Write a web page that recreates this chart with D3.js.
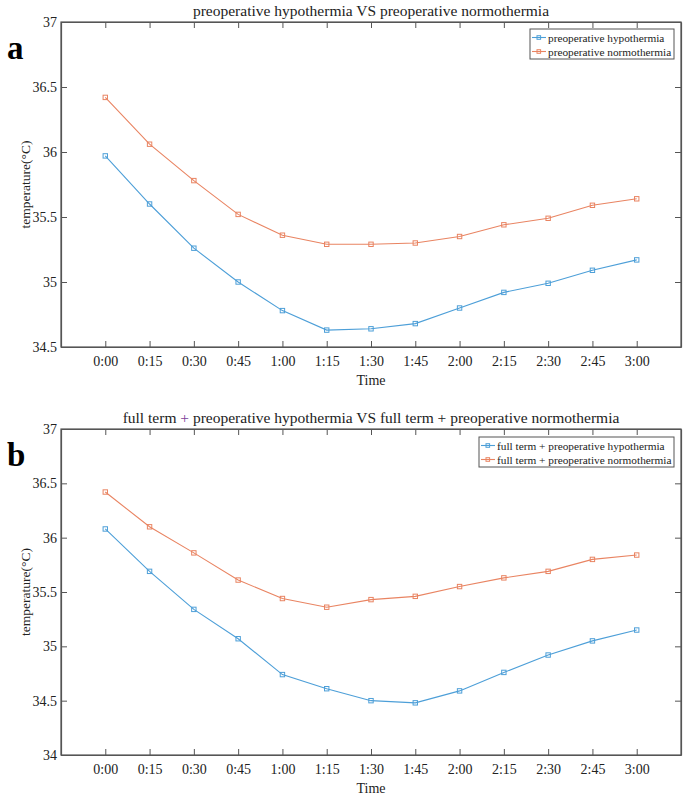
<!DOCTYPE html>
<html><head><meta charset="utf-8">
<script src="https://cdn.jsdelivr.net/npm/d3@7"></script>
<style>body{margin:0;background:#fff}svg{display:block}text{font-family:"Liberation Serif","Times New Roman",serif;fill:#222}</style>
</head><body><svg id="c" width="685" height="796"></svg>
<script>
const times = ["0:00","0:15","0:30","0:45","1:00","1:15","1:30","1:45","2:00","2:15","2:30","2:45","3:00"];
const aHypo = [35.97,35.60,35.26,35.00,34.78,34.63,34.64,34.68,34.80,34.92,34.99,35.09,35.17];
const aNormo = [36.42,36.06,35.78,35.52,35.36,35.29,35.29,35.30,35.35,35.44,35.49,35.59,35.64];
const bHypo = [36.08,35.69,35.34,35.07,34.74,34.61,34.50,34.48,34.59,34.76,34.92,35.05,35.15];
const bNormo = [36.42,36.10,35.86,35.61,35.44,35.36,35.43,35.46,35.55,35.63,35.69,35.80,35.84];
const aTicks = [34.5,35,35.5,36,36.5,37];
const bTicks = [34,34.5,35,35.5,36,36.5,37];
const aTitle = ["preoperative hypothermia VS preoperative normothermia"];
const bTitle = ["full term ","+"," preoperative hypothermia VS full term + preoperative normothermia"];
const blue = "#4d9fd8", orange = "#e98462";
const SERIF = "Liberation Serif, Times New Roman, serif";

const svg = d3.select("#c");

function panel(cfg){
  const {top,bottom,letter,title,yTicks,series,legend} = cfg;
  const left=61,right=681;
  const g = svg.append("g");
  const x = d3.scaleLinear().domain([-1,13]).range([left,right]);
  const y = d3.scaleLinear().domain([yTicks[0],yTicks[yTicks.length-1]]).range([bottom,top]);
  const ax="#555";
  g.append("rect").attr("x",left).attr("y",top).attr("width",right-left).attr("height",bottom-top)
    .attr("fill","none").attr("stroke",ax).attr("stroke-width",1.2);
  const xb = d3.axisBottom(x).tickValues(d3.range(times.length)).tickFormat(i=>times[i]).tickSizeInner(-6).tickSizeOuter(0).tickPadding(9);
  const gb = g.append("g").attr("transform",`translate(0,${bottom})`).call(xb);
  const xt = d3.axisTop(x).tickValues(d3.range(times.length)).tickFormat("").tickSizeInner(-6).tickSizeOuter(0);
  const gt = g.append("g").attr("transform",`translate(0,${top})`).call(xt);
  const yl = d3.axisLeft(y).tickValues(yTicks).tickFormat(d3.format("")).tickSizeInner(-6).tickSizeOuter(0).tickPadding(4);
  const gl = g.append("g").attr("transform",`translate(${left},0)`).call(yl);
  const yr = d3.axisRight(y).tickValues(yTicks).tickFormat("").tickSizeInner(-6).tickSizeOuter(0);
  const gr = g.append("g").attr("transform",`translate(${right},0)`).call(yr);
  [gb,gt,gl,gr].forEach(a=>{
    a.attr("font-family",SERIF).attr("font-size",14);
    a.select(".domain").attr("stroke",ax).attr("stroke-width",1.2);
    a.selectAll(".tick line").attr("stroke",ax);
    a.selectAll(".tick text").attr("fill","#222").attr("font-family",SERIF).attr("font-size",14);
  });
  const tt = g.append("text").attr("x",(left+right)/2).attr("y",top-6).attr("text-anchor","middle").style("font-size","15.5px");
  title.forEach((t,i)=>{
    const sp = tt.append("tspan").text(t);
    if(t==="+") sp.style("fill","#7b3f9a");
  });
  g.append("text").attr("x",7).attr("y",top+37).style("font-size","33px").style("font-weight","bold").style("fill","#000").text(letter);
  g.append("text").attr("x",(left+right)/2).attr("y",bottom+38).attr("text-anchor","middle").style("font-size","14px").text("Time");
  g.append("text").attr("transform",`translate(30,${(top+bottom)/2}) rotate(-90)`).attr("text-anchor","middle").style("font-size","13.5px").text("temperature(°C)");
  const line = d3.line().x((d,i)=>x(i)).y(d=>y(d));
  series.forEach(s=>{
    g.append("path").datum(s.values).attr("d",line).attr("fill","none").attr("stroke",s.color).attr("stroke-width",1.1);
    g.selectAll(null).data(s.values).enter().append("rect")
      .attr("x",(d,i)=>x(i)-2.2).attr("y",d=>y(d)-2.2).attr("width",4.4).attr("height",4.4)
      .attr("fill","none").attr("stroke",s.color).attr("stroke-width",1);
  });
  const lg = g.append("g");
  lg.append("rect").attr("x",legend.x).attr("y",legend.y).attr("width",right-7-legend.x).attr("height",30)
    .attr("fill","#fff").attr("stroke",ax).attr("stroke-width",1);
  series.forEach((s,k)=>{
    const yy = legend.y+8.5+k*14;
    lg.append("line").attr("x1",legend.x+2).attr("x2",legend.x+16).attr("y1",yy).attr("y2",yy).attr("stroke",s.color).attr("stroke-width",1.1);
    lg.append("rect").attr("x",legend.x+7).attr("y",yy-1.8).attr("width",3.6).attr("height",3.6).attr("fill","none").attr("stroke",s.color);
    lg.append("text").attr("x",legend.x+18).attr("y",yy+4).style("font-size","11.3px").text(s.name);
  });
}

panel({top:22,bottom:347,letter:"a",title:aTitle,yTicks:aTicks,
  series:[{name:"preoperative hypothermia",values:aHypo,color:blue},{name:"preoperative normothermia",values:aNormo,color:orange}],
  legend:{x:530,y:29}});
panel({top:429,bottom:755,letter:"b",title:bTitle,yTicks:bTicks,
  series:[{name:"full term + preoperative hypothermia",values:bHypo,color:blue},{name:"full term + preoperative normothermia",values:bNormo,color:orange}],
  legend:{x:479,y:437}});
</script></body></html>
